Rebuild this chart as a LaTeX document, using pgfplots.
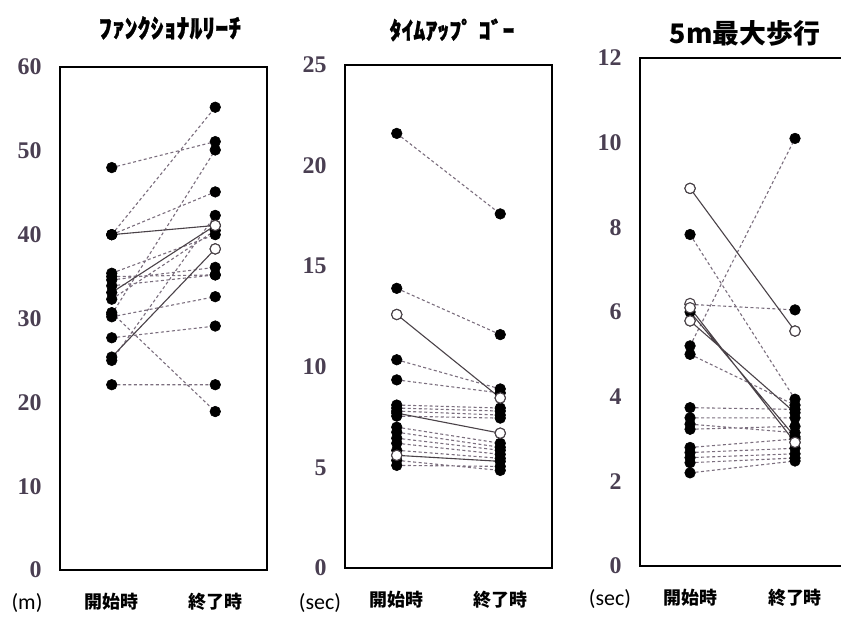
\documentclass[border=0pt]{standalone}
\usepackage{pgfplots}
\pgfplotsset{compat=1.18}
\usepackage{fontspec}
\setmainfont{Liberation Serif}
\newfontfamily\cjk{Noto Sans CJK JP}
\newfontfamily\cjkheavy{Noto Sans CJK JP}[BoldFeatures={FakeBold=1}]
\newfontfamily\unitfont{Carlito}
\definecolor{tickcol}{HTML}{4A3F52}
\definecolor{dashcol}{HTML}{7B6E7E}
\definecolor{solidcol}{HTML}{4A4248}

\pgfplotsset{
  panel/.style={
    scale only axis, width=207bp, anchor=south west,
    xmin=0.5, xmax=2.5, ymin=0,
    xtick={1,2}, xticklabels={開始時,終了時},
    major tick length=0pt,
    axis line style={line width=1.4bp},
    /pgf/number format/assume math mode=true,
    yticklabel style={font=\fontsize{24}{24}\selectfont\bfseries, text=tickcol, xshift=-15bp},
    xticklabel style={font=\cjk\fontsize{18}{18}\selectfont\bfseries, yshift=-20bp},
    clip=false,
  },
  dashpair/.style={dashcol, line width=1.1bp, dash pattern=on 3bp off 2.5bp,
    mark=*, mark size=5.3bp, mark options={solid, fill=black, draw=black, line width=0.6bp},
    unbounded coords=jump},
  solidpair/.style={solidcol, line width=1.1bp,
    mark=*, mark size=5.3bp, mark options={fill=black, draw=black, line width=0.6bp},
    unbounded coords=jump},
  opendots/.style={only marks, mark=*, mark size=5.2bp,
    mark options={fill=white, draw=solidcol, line width=1.1bp}},
}

\begin{document}
\begin{tikzpicture}
% ---- Functional reach (m) ----
\begin{axis}[panel, at={(60bp,47bp)}, height=503bp, ymax=60, ytick={0,10,...,60}]
\addplot[dashpair] coordinates {
 (1,48)(2,51.1) (nan,nan)
 (1,40)(2,55.2) (nan,nan)
 (1,40)(2,45.1) (nan,nan)
 (1,30.5)(2,50.1) (nan,nan)
 (1,35.4)(2,40) (nan,nan)
 (1,35)(2,35.2) (nan,nan)
 (1,34.6)(2,36.1) (nan,nan)
 (1,33.9)(2,35.2) (nan,nan)
 (1,32.3)(2,40.5) (nan,nan)
 (1,25)(2,42.3) (nan,nan)
 (1,30.2)(2,32.6) (nan,nan)
 (1,27.7)(2,29.1) (nan,nan)
 (1,22.1)(2,22.1) (nan,nan)
 (1,30.7)(2,18.9)
};
\addplot[solidpair] coordinates {
 (1,40)(2,41.1) (nan,nan)
 (1,33.1)(2,41.1) (nan,nan)
 (1,25.4)(2,38.3)
};
\addplot[opendots] coordinates {(2,41.1) (2,38.3)};
\end{axis}
% ---- Timed up and go (sec) ----
\begin{axis}[panel, at={(345bp,49bp)}, height=503bp, ymax=25, ytick={0,5,...,25}]
\addplot[dashpair] coordinates {
 (1,21.6)(2,17.6) (nan,nan)
 (1,13.9)(2,11.6) (nan,nan)
 (1,10.35)(2,8.9) (nan,nan)
 (1,9.35)(2,8.7) (nan,nan)
 (1,8.1)(2,7.95) (nan,nan)
 (1,7.95)(2,7.8) (nan,nan)
 (1,7.8)(2,7.6) (nan,nan)
 (1,7.55)(2,7.45) (nan,nan)
 (1,7.0)(2,6.2) (nan,nan)
 (1,6.75)(2,6.0) (nan,nan)
 (1,6.45)(2,5.85) (nan,nan)
 (1,6.2)(2,5.65) (nan,nan)
 (1,5.85)(2,5.45) (nan,nan)
 (1,5.1)(2,5.05) (nan,nan)
 (1,5.35)(2,4.85)
};
\addplot[solidpair] coordinates {
 (1,12.6)(2,8.45) (nan,nan)
 (1,7.7)(2,6.7) (nan,nan)
 (1,5.6)(2,5.3)
};
\addplot[opendots] coordinates {(1,12.6) (2,8.45) (2,6.7) (1,5.6)};
\end{axis}
% ---- 5 m maximum walk (sec) ----
\begin{axis}[panel, at={(640bp,51bp)}, width=212bp, height=508bp,
  xmin=0.523, xmax=2.543, ymax=12, ytick={0,2,...,12}]
\addplot[dashpair] coordinates {
 (1,7.83)(2,3.94) (nan,nan)
 (1,6.18)(2,6.05) (nan,nan)
 (1,5.2)(2,10.1) (nan,nan)
 (1,5.0)(2,3.8) (nan,nan)
 (1,3.74)(2,3.7) (nan,nan)
 (1,3.5)(2,3.5) (nan,nan)
 (1,3.35)(2,3.15) (nan,nan)
 (1,3.23)(2,3.3) (nan,nan)
 (1,2.8)(2,3.0) (nan,nan)
 (1,2.68)(2,2.78) (nan,nan)
 (1,2.56)(2,2.65) (nan,nan)
 (1,2.44)(2,2.55) (nan,nan)
 (1,2.2)(2,2.48)
};
\addplot[solidpair] coordinates {
 (1,8.92)(2,5.55) (nan,nan)
 (1,6.1)(2,2.92) (nan,nan)
 (1,6.0)(2,3.05) (nan,nan)
 (1,5.79)(2,3.62)
};
\addplot[opendots] coordinates {(1,8.92) (2,5.55) (1,6.2) (1,6.1) (1,5.79) (2,2.92)};
\end{axis}
% titles
\node[font=\cjkheavy\fontsize{26}{26}\selectfont\bfseries] at (170bp,589bp) {ﾌｧﾝｸｼｮﾅﾙﾘｰﾁ};
\node[font=\cjkheavy\fontsize{24}{24}\selectfont\bfseries] at (452bp,587bp) {ﾀｲﾑｱｯﾌﾟ ｺﾞｰ};
\node[font=\cjk\fontsize{27}{27}\selectfont\bfseries] at (745bp,584bp) {5m最大歩行};
% units
\node[font=\unitfont\fontsize{22}{22}\selectfont] at (27bp,14bp) {(m)};
\node[font=\unitfont\fontsize{22}{22}\selectfont] at (320bp,14bp) {(sec)};
\node[font=\unitfont\fontsize{22}{22}\selectfont] at (610bp,18bp) {(sec)};
\pgfresetboundingbox
\path (0,0) rectangle (841bp,617bp);
\end{tikzpicture}
\end{document}
